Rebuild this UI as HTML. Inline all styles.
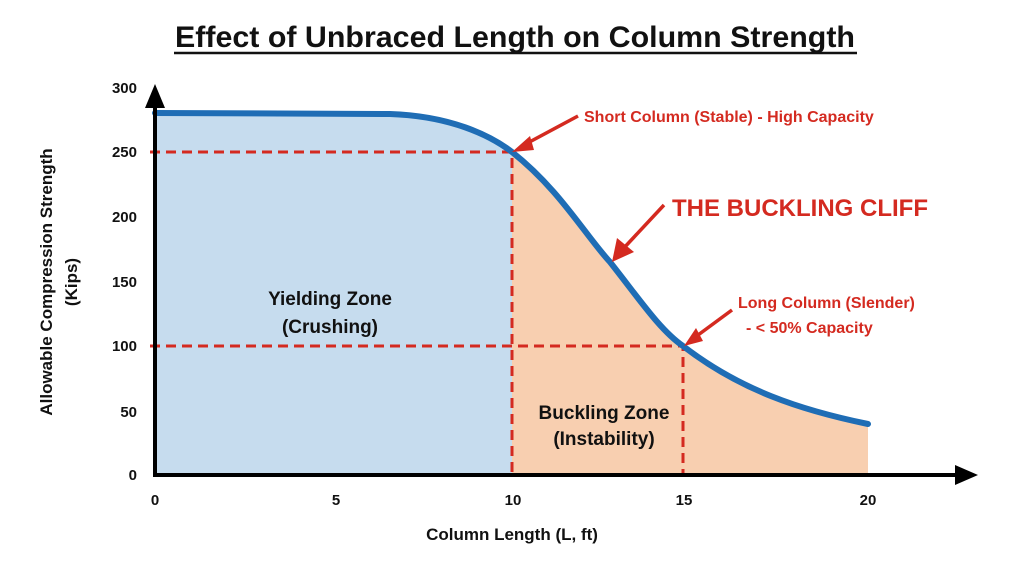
<!DOCTYPE html>
<html><head><style>
body{margin:0;background:#fff;width:1024px;height:559px;overflow:hidden}
svg text{font-family:"Liberation Sans",sans-serif}
</style></head><body>
<svg width="1024" height="559" viewBox="0 0 1024 559">
<defs>
<clipPath id="cb"><rect x="155" y="0" width="357" height="475"/></clipPath>
<clipPath id="co"><rect x="512" y="0" width="356" height="475"/></clipPath>
</defs>
<text x="515" y="47" text-anchor="middle" font-size="30" font-weight="bold" fill="#111" textLength="680" lengthAdjust="spacingAndGlyphs">Effect of Unbraced Length on Column Strength</text>
<line x1="174" y1="53" x2="857" y2="53" stroke="#111" stroke-width="2.5"/>
<g>
<path d="M155,475 L155,113 L390,114 C450,116 490,135 512,152 C560,190 585,235 610,262 C640,300 660,330 683,346 C740,390 800,410 868,424 L868,475 Z" fill="#c6dcee" clip-path="url(#cb)"/>
<path d="M155,475 L155,113 L390,114 C450,116 490,135 512,152 C560,190 585,235 610,262 C640,300 660,330 683,346 C740,390 800,410 868,424 L868,475 Z" fill="#f8cfb0" clip-path="url(#co)"/>
</g>
<g stroke="#d42a20" stroke-width="3" stroke-dasharray="10,6" fill="none">
<path d="M150,152 H512 V475"/>
<path d="M150,346 H683 V475"/>
</g>
<path d="M155,113 L390,114 C450,116 490,135 512,152 C560,190 585,235 610,262 C640,300 660,330 683,346 C740,390 800,410 868,424" fill="none" stroke="#1f6db5" stroke-width="6" stroke-linecap="round"/>
<line x1="155" y1="476" x2="155" y2="100" stroke="#000" stroke-width="4"/>
<polygon points="155,84 145,108 165,108" fill="#000"/>
<line x1="153" y1="475" x2="960" y2="475" stroke="#000" stroke-width="4"/>
<polygon points="978,475 955,465 955,485" fill="#000"/>
<g font-size="15" font-weight="bold" fill="#111" text-anchor="end">
<text x="137" y="480">0</text><text x="137" y="417">50</text><text x="137" y="351">100</text>
<text x="137" y="287">150</text><text x="137" y="222">200</text><text x="137" y="157">250</text><text x="137" y="93">300</text>
</g>
<g font-size="15" font-weight="bold" fill="#111" text-anchor="middle">
<text x="155" y="505">0</text><text x="336" y="505">5</text><text x="513" y="505">10</text><text x="684" y="505">15</text><text x="868" y="505">20</text>
</g>
<text x="512" y="540" text-anchor="middle" font-size="17" font-weight="bold" fill="#111">Column Length (L, ft)</text>
<text transform="translate(52,282) rotate(-90)" text-anchor="middle" font-size="17" font-weight="bold" fill="#111">Allowable Compression Strength</text>
<text transform="translate(77,282) rotate(-90)" text-anchor="middle" font-size="17" font-weight="bold" fill="#111">(Kips)</text>
<g font-size="19" font-weight="bold" fill="#111" text-anchor="middle">
<text x="330" y="305">Yielding Zone</text><text x="330" y="333">(Crushing)</text>
<text x="604" y="419">Buckling Zone</text><text x="604" y="445">(Instability)</text>
</g>
<g fill="#d42a20" font-weight="bold">
<text x="584" y="122" font-size="16">Short Column (Stable) - High Capacity</text>
<text x="672" y="216" font-size="24">THE BUCKLING CLIFF</text>
<text x="738" y="308" font-size="16">Long Column (Slender)</text>
<text x="746" y="333" font-size="16">- &lt; 50% Capacity</text>
</g>
<g stroke="#d42a20" stroke-width="3.5" fill="#d42a20">
<line x1="578" y1="116" x2="522" y2="146"/>
<polygon points="512,152 530,136 534,150" stroke="none"/>
<line x1="664" y1="205" x2="622" y2="250"/>
<polygon points="612,262 617,238 634,252" stroke="none"/>
<line x1="732" y1="310" x2="694" y2="338"/>
<polygon points="684,346 696,328 703,341" stroke="none"/>
</g>
</svg>
</body></html>
